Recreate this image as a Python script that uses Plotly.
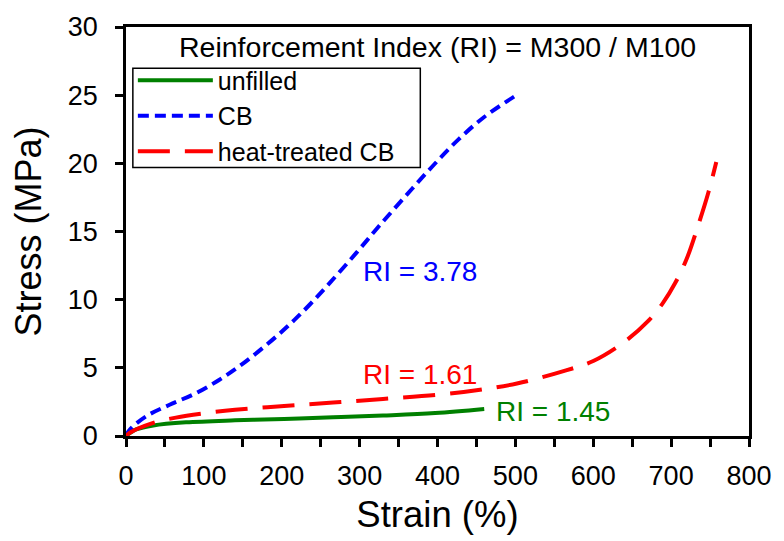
import plotly.graph_objects as go

# ---- data ----
unfilled_x = [0, 5, 13, 35, 77, 140, 203, 266, 330, 397, 460]
unfilled_y = [0, 0.22, 0.48, 0.77, 1.0, 1.15, 1.25, 1.37, 1.5, 1.68, 1.98]

cb_x = [0, 5, 26, 56, 89, 119, 144, 169, 195, 216, 237, 262, 296, 325, 359, 393, 426, 460, 500]
cb_y = [0, 0.48, 1.45, 2.29, 3.12, 4.09, 5.05, 6.15, 7.4, 8.5, 9.7, 11.25, 13.45, 15.4, 17.6, 19.75, 21.7, 23.4, 24.95]

htcb_x = [0, 5, 35, 64, 98, 140, 203, 266, 330, 397, 450, 502, 565, 600, 640, 670, 690, 705, 720, 735, 748, 758]
htcb_y = [0, 0.24, 0.96, 1.35, 1.65, 1.92, 2.2, 2.45, 2.72, 3.0, 3.35, 3.85, 4.81, 5.5, 6.9, 8.4, 9.8, 11.2, 13.0, 15.5, 17.9, 20.1]

series_names = ["unfilled", "CB", "heat-treated CB"]
ri_labels = ["RI = 1.45", "RI = 3.78", "RI = 1.61"]
ri_x = [472, 302, 302]
ri_y = [1.8, 12.1, 4.5]
title_text = "Reinforcement Index (RI) = M300 / M100"
x_tickvals = [0, 100, 200, 300, 400, 500, 600, 700, 800]
y_tickvals = [0, 5, 10, 15, 20, 25, 30]

GREEN = "#008000"
BLUE = "#0000FF"
RED = "#FF0000"
FONT = "Liberation Sans, Arial, sans-serif"

fig = go.Figure()
fig.add_trace(go.Scatter(x=unfilled_x, y=unfilled_y, mode="lines", name=series_names[0],
                         line=dict(color=GREEN, width=4, shape="spline")))
fig.add_trace(go.Scatter(x=cb_x, y=cb_y, mode="lines", name=series_names[1],
                         line=dict(color=BLUE, width=4, dash="11px,6px", shape="spline")))
fig.add_trace(go.Scatter(x=htcb_x, y=htcb_y, mode="lines", name=series_names[2],
                         line=dict(color=RED, width=4, dash="32px,15px", shape="spline")))

colors = [GREEN, BLUE, RED]
for t, xx, yy, c in zip(ri_labels, ri_x, ri_y, colors):
    fig.add_annotation(x=xx, y=yy, text=t, showarrow=False, xanchor="left", yanchor="middle",
                       font=dict(size=28, color=c, family=FONT))

fig.add_annotation(x=0.5, y=0.952, xref="paper", yref="paper", text=title_text, showarrow=False,
                   xanchor="center", yanchor="middle", font=dict(size=28.5, color="black", family=FONT))

# legend frame (decoration behind the legend entries)
fig.add_shape(type="rect", xref="paper", yref="paper", x0=0.011, x1=0.4724, y0=0.6562, y1=0.899,
              line=dict(color="black", width=1.5), fillcolor="white", layer="above")

axis_common = dict(showline=True, linecolor="black", linewidth=2.5, mirror=True,
                   ticks="outside", ticklen=8, tickwidth=2.5, tickcolor="black",
                   showgrid=False, zeroline=False,
                   tickfont=dict(size=27, color="black", family=FONT))

fig.update_xaxes(range=[0, 800], tickvals=x_tickvals, ticklabelstandoff=6,
                 minor=dict(dtick=50, ticks="outside", ticklen=8, tickwidth=2.5, tickcolor="black"),
                 title=dict(text="Strain (%)", font=dict(size=36.5, color="black", family=FONT), standoff=12),
                 **axis_common)
fig.update_yaxes(range=[0, 30], tickvals=y_tickvals, ticklabelstandoff=12,
                 title=dict(text="Stress (MPa)", font=dict(size=36, color="black", family=FONT), standoff=16),
                 **axis_common)

fig.update_layout(
    width=784, height=541,
    margin=dict(l=126, r=25, t=24, b=101),
    plot_bgcolor="white", paper_bgcolor="white",
    legend=dict(x=0.011, y=0.9255, xanchor="left", yanchor="top",
                bgcolor="rgba(0,0,0,0)", borderwidth=0,
                font=dict(size=25, color="black", family=FONT),
                itemwidth=75, tracegroupgap=0),
    showlegend=True,
)

fig.write_html("out.html")
